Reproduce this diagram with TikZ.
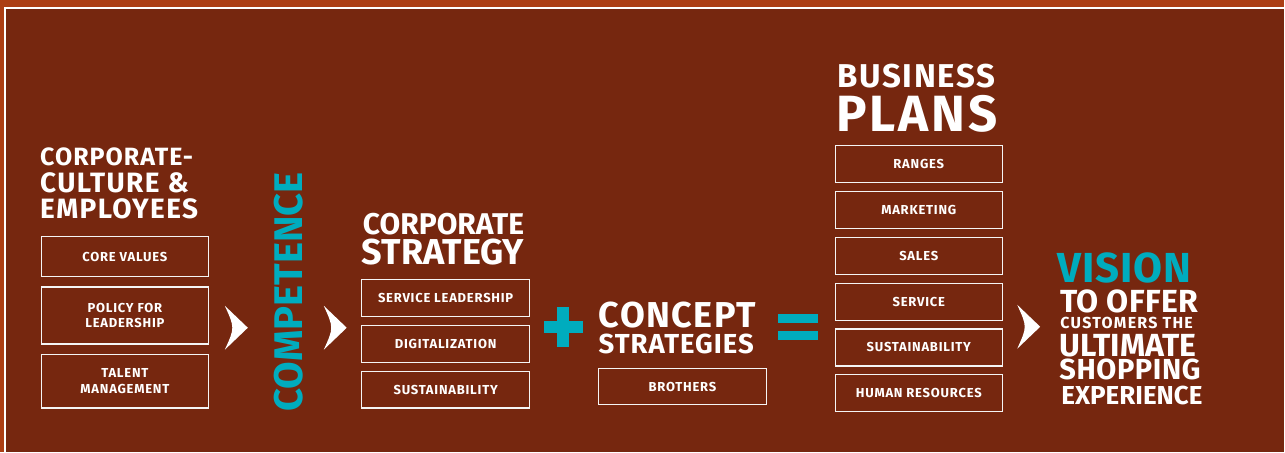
\documentclass[tikz,border=0pt]{standalone}
\usepackage{fontspec}
\setmainfont{Fira Sans}
\usetikzlibrary{positioning}
\definecolor{rust}{RGB}{118,39,15}
\definecolor{rustedge}{RGB}{172,62,20}
\definecolor{visionblue}{RGB}{0,172,190}
\newcommand{\fs}[3][0]{\bfseries\fontsize{#2}{#3}\selectfont\addfontfeature{LetterSpace=#1}}

\begin{document}
\begin{tikzpicture}
  [
    x = 1pt, y = -1pt,
    every node/.style = {text = white, inner sep = 0pt},
    head/.style = {anchor = base west, align = left},
    item/.style = {draw = white!92!gray, line width = 1.2pt, align = center,
                   minimum width = 167pt, minimum height = 37pt,
                   font = {\fs[6]{13}{15.5}}},
    chevron/.pic = {\fill[white] (0,-22) -- (23,0) -- (0,22) .. controls (10,0) .. (0,-22) -- cycle;}
  ]
  % background and frame
  \fill[rustedge] (0,0) rectangle (1285,452);
  \fill[rust] (5.5,8) rectangle (1285,452);
  \draw[white, line width = 2pt] (5.5,452) -- (5.5,8) -- (1285,8);
  \useasboundingbox (0,0) rectangle (1285,452);

  % corporate culture
  \node[head, font = {\fs[5]{28}{26.5}}] (Culture) at (40,219)
    {{\fs[4]{25}{26.5}CORPORATE-}\\CULTURE \&\\EMPLOYEES};
  \node[item, minimum height = 40pt] (CoreValues) at (125,257) {CORE VALUES};
  \node[item, minimum height = 57pt, below = 9pt of CoreValues] (Policy) {POLICY FOR\\LEADERSHIP};
  \node[item, minimum height = 54pt, below = 9pt of Policy] (Talent) {TALENT\\MANAGEMENT};
  \pic at (225,328) {chevron};
  \node[rotate = 90, text = visionblue, font = {\fs{40}{40}}] (Competence) at (289,292) {COMPETENCE};
  \pic at (324,328) {chevron};

  % corporate strategy
  \node[head, font = {\fs{30}{30}}] (StratA) at (363,235) {CORPORATE};
  \node[head, font = {\fs{36}{36}}] (StratB) at (362,265) {STRATEGY};
  \node[item, minimum width = 168pt] (ServiceLead) at (446,298.5) {SERVICE LEADERSHIP};
  \node[item, minimum width = 168pt, below = 7.5pt of ServiceLead] (Digital) {DIGITALIZATION};
  \node[item, minimum width = 168pt, below = 7.5pt of Digital] (SustainA) {SUSTAINABILITY};

  % plus
  \fill[visionblue] (544,321) rectangle (583,333);
  \fill[visionblue] (557.5,307) rectangle (569.5,347);

  % concept strategies
  \node[head, font = {\fs[4]{36}{36}}] (ConceptA) at (599,328) {CONCEPT};
  \node[head, font = {\fs[3.5]{27.5}{28}}] (ConceptB) at (599,354) {STRATEGIES};
  \node[item, minimum width = 168pt, minimum height = 36pt] (Brothers) at (683,387) {BROTHERS};

  % equals
  \fill[visionblue] (779,314) rectangle (819,323);
  \fill[visionblue] (779,331) rectangle (819,340);

  % business plans
  \node[head, font = {\fs[5]{33}{33}}] (PlansA) at (838,88) {BUSINESS};
  \node[head, font = {\fs[5.5]{51}{51}}] (PlansB) at (837,132) {PLANS};
  \node[item] (Ranges) at (919.5,164.5) {RANGES};
  \node[item, below = 7.6pt of Ranges] (Marketing) {MARKETING};
  \node[item, below = 7.6pt of Marketing] (Sales) {SALES};
  \node[item, below = 7.6pt of Sales] (Service) {SERVICE};
  \node[item, below = 7.6pt of Service] (SustainB) {SUSTAINABILITY};
  \node[item, below = 7.6pt of SustainB] (HumanRes) {HUMAN RESOURCES};
  \pic at (1018,327) {chevron};

  % vision
  \node[head, text = visionblue, font = {\fs[2]{42}{42}}] (Vision) at (1058,283) {VISION};
  \node[head, font = {\fs[1]{32}{32}}] (VisionA) at (1061,313) {TO OFFER};
  \node[head, font = {\fs[8]{16}{16}}] (VisionB) at (1061,329) {CUSTOMERS THE};
  \node[head, font = {\fs{32}{32}}] (VisionC) at (1060,357) {ULTIMATE};
  \node[head, font = {\fs[2]{29}{29}}] (VisionD) at (1060,380) {SHOPPING};
  \node[head, font = {\fs{26}{26}}] (VisionE) at (1062,405) {EXPERIENCE};
\end{tikzpicture}
\end{document}
